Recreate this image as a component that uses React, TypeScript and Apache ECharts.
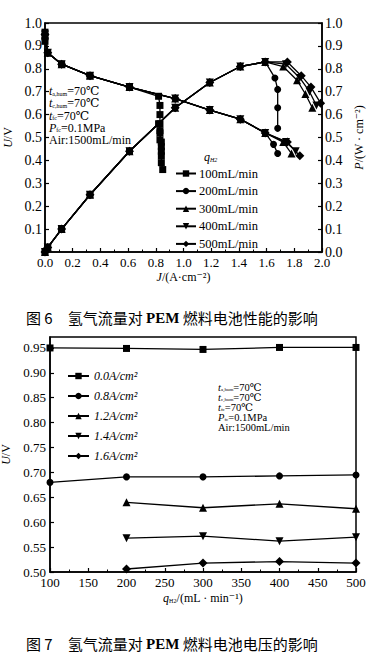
import React, { useEffect, useRef } from "react";
import * as echarts from "echarts";

// ---------- Figure 6 data: J (A/cm2) vs U (V) and P (W/cm2) ----------
const flowNames = ["100mL/min", "200mL/min", "300mL/min", "400mL/min", "500mL/min"];
const flowSymbols = ["rect", "circle", "triangle", "path://M0,0 L10,0 L5,9 Z", "diamond"];
const flowSymbolSizes = [7, 7, 8, 8, 9];

const u100 = [[0, 0.96], [0, 0.94], [0, 0.92], [0.02, 0.87], [0.12, 0.82], [0.325, 0.77], [0.61, 0.72], [0.82, 0.68], [0.83, 0.64], [0.83, 0.6], [0.83, 0.56], [0.83, 0.52], [0.84, 0.48], [0.84, 0.44]];
const p100 = [[0, 0], [0.02, 0.02], [0.12, 0.1], [0.325, 0.25], [0.61, 0.44], [0.82, 0.56], [0.83, 0.53], [0.83, 0.49], [0.84, 0.46], [0.84, 0.42], [0.84, 0.39], [0.85, 0.36]];
const u200 = [[0, 0.95], [0.02, 0.87], [0.12, 0.82], [0.325, 0.77], [0.61, 0.72], [0.94, 0.67], [1.19, 0.62], [1.41, 0.58], [1.59, 0.52], [1.65, 0.47], [1.68, 0.43]];
const p200 = [[0, 0], [0.02, 0.02], [0.12, 0.1], [0.325, 0.25], [0.61, 0.44], [0.94, 0.63], [1.19, 0.74], [1.41, 0.81], [1.59, 0.83], [1.66, 0.76], [1.68, 0.71], [1.68, 0.63], [1.68, 0.54]];
const u300 = [[0, 0.95], [0.02, 0.87], [0.12, 0.82], [0.325, 0.77], [0.61, 0.72], [0.94, 0.67], [1.19, 0.62], [1.41, 0.58], [1.59, 0.52], [1.72, 0.48], [1.78, 0.43]];
const p300 = [[0, 0], [0.02, 0.02], [0.12, 0.1], [0.325, 0.25], [0.61, 0.44], [0.94, 0.63], [1.19, 0.74], [1.41, 0.81], [1.59, 0.83], [1.72, 0.81], [1.82, 0.75], [1.88, 0.69], [1.93, 0.63]];
const u400 = [[0, 0.95], [0.02, 0.87], [0.12, 0.82], [0.325, 0.77], [0.61, 0.72], [0.94, 0.67], [1.19, 0.62], [1.41, 0.58], [1.59, 0.52], [1.74, 0.48], [1.81, 0.44]];
const p400 = [[0, 0], [0.02, 0.02], [0.12, 0.1], [0.325, 0.25], [0.61, 0.44], [0.94, 0.63], [1.19, 0.74], [1.41, 0.81], [1.59, 0.83], [1.74, 0.82], [1.84, 0.76], [1.91, 0.7], [1.96, 0.64]];
const u500 = [[0, 0.95], [0.02, 0.87], [0.12, 0.82], [0.325, 0.77], [0.61, 0.72], [0.94, 0.67], [1.19, 0.62], [1.41, 0.58], [1.59, 0.52], [1.75, 0.48], [1.84, 0.42]];
const p500 = [[0, 0], [0.02, 0.02], [0.12, 0.1], [0.325, 0.25], [0.61, 0.44], [0.94, 0.63], [1.19, 0.74], [1.41, 0.81], [1.59, 0.83], [1.75, 0.83], [1.85, 0.77], [1.92, 0.72], [1.99, 0.65]];
const uSets = [u100, u200, u300, u400, u500];
const pSets = [p100, p200, p300, p400, p500];

// ---------- Figure 7 data: H2 flow (mL/min) vs U (V) ----------
const flows = [100, 200, 300, 400, 500];
const currentNames = ["0.0A/cm²", "0.8A/cm²", "1.2A/cm²", "1.4A/cm²", "1.6A/cm²"];
const v00 = [0.95, 0.949, 0.947, 0.951, 0.951];
const v08 = [0.68, 0.691, 0.691, 0.693, 0.695];
const v12 = [null, 0.64, 0.629, 0.637, 0.627];
const v14 = [null, 0.568, 0.572, 0.562, 0.57];
const v16 = [null, 0.506, 0.518, 0.521, 0.518];
const vSets = [v00, v08, v12, v14, v16];

const serif = "'Liberation Serif', 'DejaVu Serif', serif";
const cjk = "'Noto Sans CJK SC', 'Liberation Serif', serif";

const axisLineStyle = { color: "#000", width: 1.5 };

function baseAxis(extra: any) {
  return {
    axisLine: { show: true, onZero: false, lineStyle: axisLineStyle },
    axisTick: { show: true, inside: true, length: 4, lineStyle: { color: "#000", width: 1.2 } },
    splitLine: { show: false },
    axisLabel: { color: "#000", fontFamily: serif, fontSize: 13, margin: 4 },
    nameTextStyle: { color: "#000", fontFamily: serif, fontSize: 12 },
    ...extra,
  };
}

const subRich = {
  i: { fontFamily: serif, fontStyle: "italic", fontSize: 12, color: "#000", lineHeight: 11 },
  n: { fontFamily: serif, fontSize: 12, color: "#000", lineHeight: 11 },
  s: { fontFamily: serif, fontSize: 6, color: "#000", lineHeight: 6, verticalAlign: "bottom" },
};
const subRichSmall = {
  i: { fontFamily: serif, fontStyle: "italic", fontSize: 10.5, color: "#000", lineHeight: 9 },
  n: { fontFamily: serif, fontSize: 10.5, color: "#000", lineHeight: 9 },
  s: { fontFamily: serif, fontSize: 5, color: "#000", lineHeight: 5, verticalAlign: "bottom" },
};
const annoLines = [
  "{i|t}{s|a,hum}{n|=70℃}",
  "{i|t}{s|c,hum}{n|=70℃}",
  "{i|t}{s|fc}{n|=70℃}",
  "{i|P}{s|fc}{n|=0.1MPa}",
  "{n|Air:1500mL/min}",
];

export default function App() {
  const ref = useRef<HTMLDivElement>(null);
  useEffect(() => {
    if (!ref.current) return;
    const chart = echarts.init(ref.current, null, { renderer: "svg" });

    const series: any[] = [];
    flowNames.forEach((name, k) => {
      [uSets[k], pSets[k]].forEach((d, j) => {
        series.push({
          type: "line",
          name,
          xAxisIndex: 0,
          yAxisIndex: j,
          data: d,
          symbol: flowSymbols[k],
          symbolSize: flowSymbolSizes[k],
          clip: false,
          lineStyle: { color: "#000", width: 1.3 },
          itemStyle: { color: "#000" },
        });
      });
    });
    currentNames.forEach((name, k) => {
      const d: any[] = [];
      flows.forEach((f, i) => {
        if (vSets[k][i] != null) d.push([f, vSets[k][i]]);
      });
      series.push({
        type: "line",
        name,
        xAxisIndex: 1,
        yAxisIndex: 2,
        data: d,
        symbol: flowSymbols[k],
        symbolSize: flowSymbolSizes[k],
        clip: false,
        lineStyle: { color: "#000", width: 1.3 },
        itemStyle: { color: "#000" },
      });
    });

    const graphics: any[] = [];
    annoLines.forEach((t, i) => {
      graphics.push({
        type: "text",
        left: 49,
        top: 85 + i * 12.3,
        style: { text: t, rich: subRich, fill: "#000" },
      });
    });
    annoLines.forEach((t, i) => {
      graphics.push({
        type: "text",
        left: 218,
        top: 381.5 + i * 10.2,
        style: { text: t, rich: subRichSmall, fill: "#000" },
      });
    });
    graphics.push({
      type: "text",
      left: 204,
      top: 151,
      style: {
        text: "{i|q}{s|H2}",
        rich: {
          i: { fontFamily: serif, fontStyle: "italic", fontSize: 12, color: "#000", lineHeight: 11 },
          s: { fontFamily: serif, fontStyle: "italic", fontSize: 6, color: "#000", lineHeight: 6, verticalAlign: "bottom" },
        },
      },
    });
    const capRich = {
      c: { fontFamily: cjk, fontSize: 15, color: "#000" },
      b: { fontFamily: serif, fontSize: 15, fontWeight: "bold", color: "#000" },
    };
    graphics.push({
      type: "text",
      left: 26,
      top: 310,
      style: { text: "{c|图 6　氢气流量对 }{b|PEM}{c| 燃料电池性能的影响}", rich: capRich },
    });
    graphics.push({
      type: "text",
      left: 26,
      top: 636,
      style: { text: "{c|图 7　氢气流量对 }{b|PEM}{c| 燃料电池电压的影响}", rich: capRich },
    });

    const option: any = {
      animation: false,
      backgroundColor: "#fff",
      color: ["#000"],
      grid: [
        { left: 45, top: 23, width: 277, height: 229, show: true, borderColor: "#000", borderWidth: 1.5, backgroundColor: "transparent", containLabel: false, outerBoundsMode: "none" },
        { left: 50, top: 337, width: 306, height: 235, show: true, borderColor: "#000", borderWidth: 1.5, backgroundColor: "transparent", containLabel: false, outerBoundsMode: "none" },
      ],
      xAxis: [
        baseAxis({
          type: "value",
          gridIndex: 0,
          min: 0,
          max: 2,
          interval: 0.2,
          minorTick: { show: true, splitNumber: 2, length: 2.5, lineStyle: { color: "#000" } },
          axisLabel: { color: "#000", fontFamily: serif, fontSize: 13, margin: 4, formatter: (v: number) => v.toFixed(1) },
          name: "{i|J}/(A·cm⁻²)",
          nameLocation: "middle",
          nameGap: 19,
          nameTextStyle: {
            color: "#000", fontFamily: serif, fontSize: 12,
            rich: { i: { fontFamily: serif, fontStyle: "italic", fontSize: 12, color: "#000" } },
          },
        }),
        baseAxis({
          type: "value",
          gridIndex: 1,
          min: 100,
          max: 500,
          interval: 50,
          minorTick: { show: true, splitNumber: 2, length: 2.5, lineStyle: { color: "#000" } },
          name: "{i|q}{s|H2}/(mL · min⁻¹)",
          nameLocation: "middle",
          nameGap: 20,
          nameTextStyle: {
            color: "#000", fontFamily: serif, fontSize: 12,
            rich: {
              i: { fontFamily: serif, fontStyle: "italic", fontSize: 12, color: "#000", lineHeight: 12 },
              s: { fontFamily: serif, fontSize: 6, color: "#000", lineHeight: 6, verticalAlign: "bottom" },
            },
          },
        }),
      ],
      yAxis: [
        baseAxis({
          type: "value",
          gridIndex: 0,
          min: 0,
          max: 1,
          interval: 0.1,
          axisLabel: { color: "#000", fontFamily: serif, fontSize: 14, margin: 3, showMinLabel: false, formatter: (v: number) => v.toFixed(1) },
          name: "{i|U}/V",
          nameLocation: "middle",
          nameRotate: 90,
          nameGap: 22,
          nameTextStyle: { color: "#000", fontFamily: serif, fontSize: 12, rich: { i: { fontFamily: serif, fontStyle: "italic", fontSize: 12, color: "#000" } } },
        }),
        baseAxis({
          type: "value",
          gridIndex: 0,
          position: "right",
          min: 0,
          max: 1,
          interval: 0.1,
          axisLabel: { color: "#000", fontFamily: serif, fontSize: 14, margin: 3, formatter: (v: number) => v.toFixed(1) },
          name: "{i|P}/(W · cm⁻²)",
          nameLocation: "middle",
          nameRotate: 90,
          nameGap: 24,
          nameTextStyle: { color: "#000", fontFamily: serif, fontSize: 12, rich: { i: { fontFamily: serif, fontStyle: "italic", fontSize: 12, color: "#000" } } },
        }),
        baseAxis({
          type: "value",
          gridIndex: 1,
          min: 0.5,
          max: 0.972,
          interval: 0.05,
          axisLabel: { color: "#000", fontFamily: serif, fontSize: 13, margin: 4, showMaxLabel: false, formatter: (v: number) => v.toFixed(2) },
          name: "{i|U}/V",
          nameLocation: "middle",
          nameRotate: 90,
          nameGap: 37,
          nameTextStyle: { color: "#000", fontFamily: serif, fontSize: 12, rich: { i: { fontFamily: serif, fontStyle: "italic", fontSize: 12, color: "#000" } } },
        }),
      ],
      legend: [
        {
          data: flowNames,
          orient: "vertical",
          left: 175,
          top: 167,
          itemWidth: 20,
          itemHeight: 8,
          itemGap: 4.6,
          padding: 0,
          selectedMode: false,
          textStyle: { color: "#000", fontFamily: serif, fontSize: 12.5, padding: [0, 0, 0, -2] },
        },
        {
          data: currentNames,
          orient: "vertical",
          left: 67,
          top: 370,
          itemWidth: 21,
          itemHeight: 8,
          itemGap: 8,
          padding: 0,
          selectedMode: false,
          textStyle: { color: "#000", fontFamily: serif, fontSize: 12, fontStyle: "italic", padding: [0, 0, 0, 0] },
        },
      ],
      graphic: graphics,
      series,
    };
    chart.setOption(option);
    return () => chart.dispose();
  }, []);
  return (
    <div
      ref={ref}
      style={{ position: "absolute", left: 0, top: 0, width: 374, height: 661, background: "#fff" }}
    />
  );
}
